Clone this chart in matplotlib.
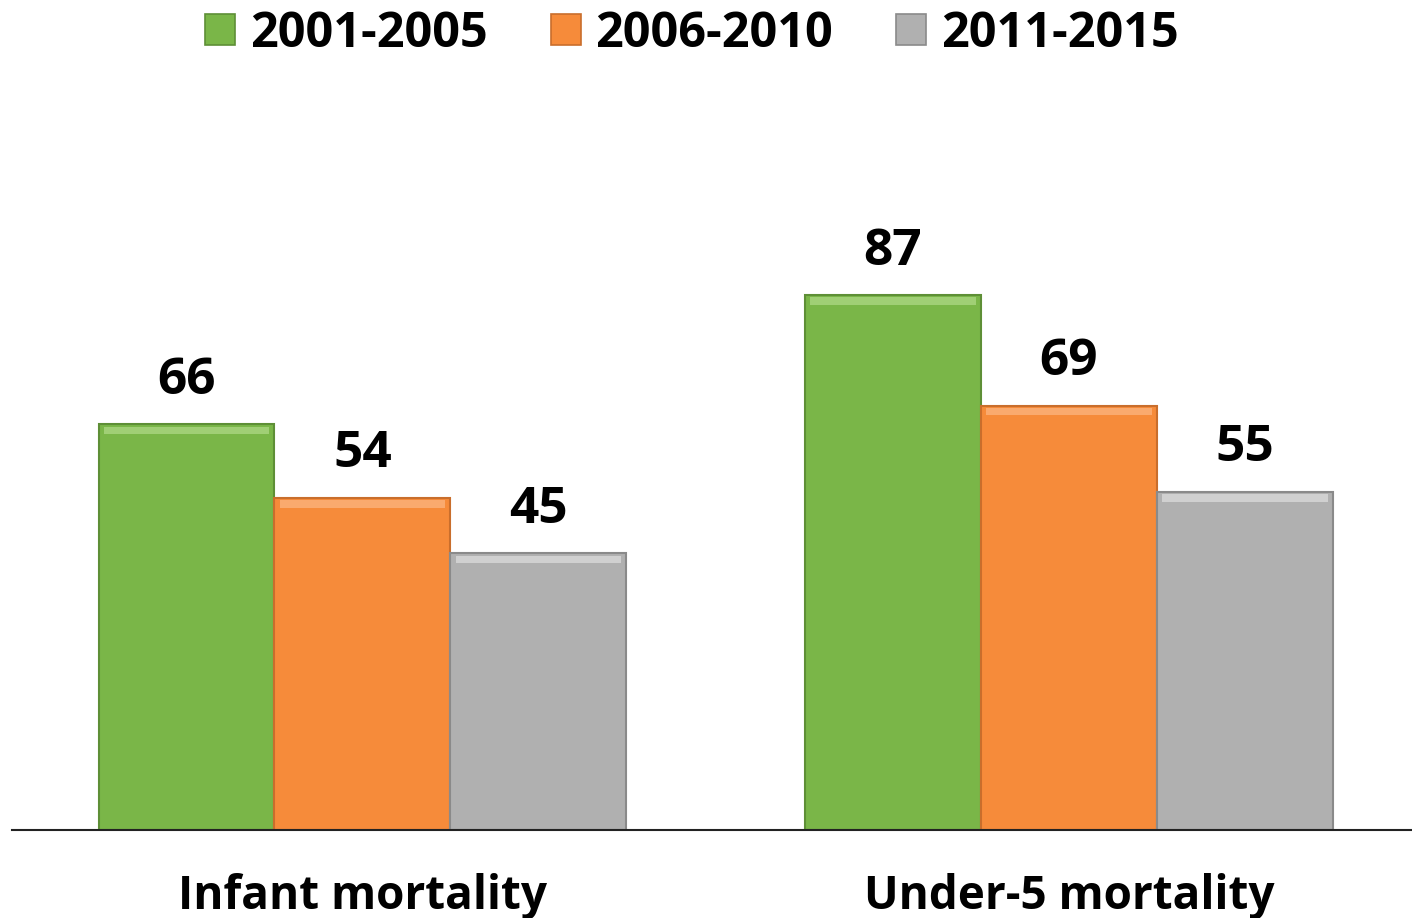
import matplotlib.pyplot as plt
import matplotlib.patches as mpatches
import numpy as np

categories = ['Infant mortality', 'Under-5 mortality']
periods = ['2001-2005', '2006-2010', '2011-2015']
values = {
    '2001-2005': [66, 87],
    '2006-2010': [54, 69],
    '2011-2015': [45, 55],
}
colors = ['#7AB648', '#F68B3A', '#B0B0B0']
edge_colors = ['#5E8F36', '#C96E2C', '#8A8A8A']
light_colors = ['#A0CF75', '#FAAA6E', '#D0D0D0']

plt.rcParams['font.family'] = ['Open Sans', 'DejaVu Sans']

fig = plt.figure(figsize=(14.12, 9.18), dpi=100)
ax = fig.add_axes([12 / 1412, 88 / 918, 1400 / 1412, 615 / 918])

x = np.arange(len(categories))
width = 0.249

for i, (period, color) in enumerate(zip(periods, colors)):
    pos = x + (i - 1) * width
    vals = values[period]
    ax.bar(pos, vals, width, color=color, edgecolor=edge_colors[i],
           linewidth=1.5, zorder=2)
    # light bevel strip on top of each bar
    ax.bar(pos, [1.2] * len(vals), width * 0.94, bottom=[v - 1.6 for v in vals],
           color=light_colors[i], linewidth=0, zorder=3)
    for p, v in zip(pos, vals):
        ax.text(p, v + 3, str(v), ha='center', va='bottom', fontsize=37,
                fontweight='bold', color='black')

ax.set_xlim(-0.496, 1.4855)
ax.set_ylim(0, 100)
for side in ['top', 'right', 'left']:
    ax.spines[side].set_visible(False)
ax.spines['bottom'].set_color('#222222')
ax.spines['bottom'].set_linewidth(1.5)
ax.set_yticks([])
ax.set_xticks(x)
ax.set_xticklabels(categories, fontsize=33, fontweight='bold')
ax.tick_params(axis='x', length=0, pad=31)

handles = [mpatches.Patch(facecolor=c, edgecolor=e, linewidth=1.2, label=p)
           for p, c, e in zip(periods, colors, edge_colors)]
fig.legend(handles=handles, loc='upper center', bbox_to_anchor=(0.49, 1.037),
           ncol=3, frameon=False, prop={'size': 35, 'weight': 'bold'},
           handlelength=0.62, handleheight=0.6, handletextpad=0.3,
           columnspacing=1.3)

fig.savefig('out.png', dpi=100, facecolor='white')
